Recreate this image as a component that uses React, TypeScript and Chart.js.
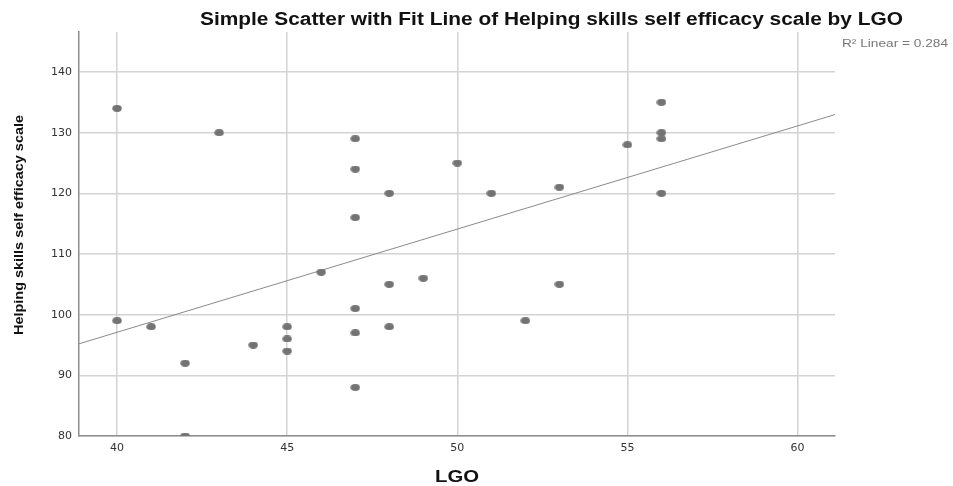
import React, { useEffect, useRef } from "react";
import { Chart, registerables } from "chart.js";

Chart.register(...registerables);

// LGO score for each respondent
const LGO = [
  40, 40, 41, 42, 42, 43, 44, 45, 45, 45, 46,
  47, 47, 47, 47, 47, 47, 48, 48, 48, 49, 50,
  51, 52, 53, 53, 55, 56, 56, 56, 56,
];

// Helping skills self efficacy scale for the same respondents
const HELPING = [
  134, 99, 98, 92, 80, 130, 95, 98, 96, 94, 107,
  129, 124, 116, 101, 97, 88, 120, 105, 98, 106, 125,
  120, 99, 121, 105, 128, 135, 130, 129, 120,
];

// Linear fit line and its R²
const FIT_INTERCEPT = 29.06;
const FIT_SLOPE = 1.701;
const R_SQUARED = "0.284";

// Axis ranges and tick labels
const X_MIN = 38.88;
const X_MAX = 61.1;
const Y_MIN = 80;
const Y_MAX = 146.6;
const X_TICKS = [40, 45, 50, 55, 60];
const Y_TICKS = [80, 90, 100, 110, 120, 130, 140];

const TITLE = "Simple Scatter with Fit Line of Helping skills self efficacy scale by LGO";
const X_TITLE = "LGO";
const Y_TITLE = "Helping skills self efficacy scale";

const W = 953;
const H = 486;

const SANS = "'Liberation Sans', Arial, sans-serif";

function makeDot(): HTMLCanvasElement {
  const c = document.createElement("canvas");
  c.width = 10;
  c.height = 7;
  const g = c.getContext("2d")!;
  g.fillStyle = "#737373";
  g.beginPath();
  g.ellipse(5, 3.5, 4.7, 3.4, 0, 0, Math.PI * 2);
  g.fill();
  return c;
}

// Draws text stretched horizontally so that it spans the given width
function drawStretched(
  ctx: CanvasRenderingContext2D,
  text: string,
  left: number,
  baseline: number,
  width: number,
  font: string,
  color: string
) {
  ctx.save();
  ctx.font = font;
  ctx.fillStyle = color;
  ctx.textAlign = "left";
  ctx.textBaseline = "alphabetic";
  const m = ctx.measureText(text).width;
  ctx.translate(left, baseline);
  ctx.scale(width / m, 1);
  ctx.fillText(text, 0, 0);
  ctx.restore();
}

const textPlugin = {
  id: "chartTexts",
  afterDraw(chart: any) {
    const ctx = chart.ctx as CanvasRenderingContext2D;

    drawStretched(ctx, TITLE, 200, 25, 703, `bold 18px ${SANS}`, "#111");
    drawStretched(ctx, X_TITLE, 435, 482, 44, `bold 16px ${SANS}`, "#111");
    drawStretched(ctx, "R\u00B2 Linear = " + R_SQUARED, 842, 46.5, 106, `11.5px ${SANS}`, "#777");

    // vertical axis title, read bottom to top
    ctx.save();
    ctx.translate(23, 225);
    ctx.rotate(-Math.PI / 2);
    ctx.font = `bold 14px ${SANS}`;
    ctx.fillStyle = "#111";
    ctx.textAlign = "left";
    ctx.textBaseline = "alphabetic";
    const m = ctx.measureText(Y_TITLE).width;
    ctx.scale(220 / m, 0.95);
    ctx.fillText(Y_TITLE, -m / 2, 0);
    ctx.restore();
  },
};

export default function App() {
  const ref = useRef<HTMLCanvasElement | null>(null);

  useEffect(() => {
    if (!ref.current) return;
    const dot = makeDot();
    const points = LGO.map((x, i) => ({ x, y: HELPING[i] }));
    const fit = [X_MIN, X_MAX].map((x) => ({ x, y: FIT_INTERCEPT + FIT_SLOPE * x }));

    const tickFont = { family: "'DejaVu Sans', sans-serif", size: 11 };

    const chart = new Chart(ref.current, {
      type: "scatter",
      data: {
        datasets: [
          {
            label: "Cases",
            data: points,
            pointStyle: dot as any,
            pointRadius: 5,
            backgroundColor: "#737373",
            borderColor: "#737373",
            order: 0,
          },
          {
            type: "line",
            label: "Fit",
            data: fit,
            borderColor: "#8a8a8a",
            borderWidth: 1,
            pointRadius: 0,
            showLine: true,
            fill: false,
            order: 1,
          } as any,
        ],
      },
      options: {
        animation: false,
        responsive: false,
        devicePixelRatio: 1,
        layout: { padding: { left: 0, top: 32, right: 118, bottom: 0 } },
        plugins: {
          legend: { display: false },
          tooltip: { enabled: false },
          title: { display: false },
        },
        scales: {
          x: {
            type: "linear",
            min: X_MIN,
            max: X_MAX,
            afterBuildTicks: (s: any) => {
              s.ticks = X_TICKS.map((value) => ({ value }));
            },
            afterFit: (s: any) => {
              s.height = 50;
            },
            grid: { color: "#d3d3d3", lineWidth: 1.5, drawTicks: false },
            border: { display: true, color: "#8e8e8e", width: 1.5 },
            ticks: { color: "#333", font: tickFont, padding: 6, maxRotation: 0 },
          },
          y: {
            type: "linear",
            min: Y_MIN,
            max: Y_MAX,
            afterBuildTicks: (s: any) => {
              s.ticks = Y_TICKS.map((value) => ({ value }));
            },
            afterFit: (s: any) => {
              s.width = 79;
            },
            grid: { color: "#d3d3d3", lineWidth: 1.5, drawTicks: false },
            border: { display: true, color: "#8e8e8e", width: 1.5 },
            ticks: { color: "#333", font: tickFont, padding: 7 },
          },
        },
      },
      plugins: [textPlugin],
    });

    return () => chart.destroy();
  }, []);

  return (
    <div style={{ position: "absolute", left: 0, top: 0, width: W, height: H, background: "#fff" }}>
      <canvas ref={ref} width={W} height={H} style={{ display: "block" }} />
    </div>
  );
}
